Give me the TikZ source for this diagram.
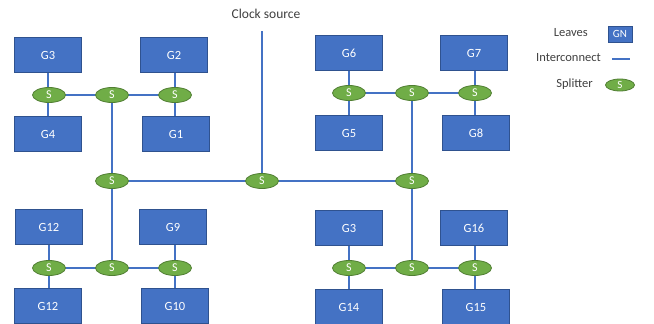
\documentclass[tikz,border=0pt]{standalone}
\usepackage{fontspec}
\setmainfont{Carlito}
\usetikzlibrary{shapes.geometric}
\definecolor{boxfill}{HTML}{4472C4}
\definecolor{boxline}{HTML}{2F528F}
\definecolor{sfill}{HTML}{70AD47}
\definecolor{sline}{HTML}{507E32}
\definecolor{wire}{HTML}{4472C4}
\definecolor{txt}{HTML}{404040}
\tikzset{
  leaf/.style={draw=boxline, line width=0.8pt, fill=boxfill, text=white, minimum width=67pt, minimum height=35pt, inner sep=0pt, font=\fontsize{12.5}{14}\selectfont},
  split/.style={ellipse, draw=sline, line width=0.8pt, fill=sfill, text=white, minimum width=33pt, minimum height=15pt, inner sep=0pt, font=\fontsize{12}{12}\selectfont},
  wirestyle/.style={draw=wire, line width=2pt},
  legtext/.style={text=txt, font=\fontsize{12.5}{14}\selectfont, anchor=east, inner sep=0pt}
}
\begin{document}
\begin{tikzpicture}[x=1pt,y=-1pt]
\useasboundingbox (0,0) rectangle (654,324);
% top-left
\node[leaf] (g3a) at (48,55) {G3};
\node[leaf] (g2) at (174,55) {G2};
\node[leaf] (g4) at (48,134) {G4};
\node[leaf] (g1) at (176,134) {G1};
% top-right
\node[leaf] (g6) at (349,53) {G6};
\node[leaf] (g7) at (474,53) {G7};
\node[leaf] (g5) at (349,133) {G5};
\node[leaf] (g8) at (476,133) {G8};
% bottom-left
\node[leaf] (g12a) at (49,227) {G12};
\node[leaf] (g9) at (173,227) {G9};
\node[leaf] (g12b) at (48,306) {G12};
\node[leaf] (g10) at (175,306) {G10};
% bottom-right
\node[leaf] (g3b) at (349,228) {G3};
\node[leaf] (g16) at (474,228) {G16};
\node[leaf] (g14) at (349,307) {G14};
\node[leaf] (g15) at (476,307) {G15};
% clock
\node[text=txt, font=\fontsize{13.5}{16}\selectfont, inner sep=0pt] (clk) at (266,14) {Clock source};
\coordinate (clktop) at (262,31);
% splitter coordinates
\coordinate (ptl1) at (49,95); \coordinate (ptl2) at (112,95); \coordinate (ptl3) at (175,95);
\coordinate (ptr1) at (349,93); \coordinate (ptr2) at (412,93); \coordinate (ptr3) at (475,93);
\coordinate (pbl1) at (49,268); \coordinate (pbl2) at (112,268); \coordinate (pbl3) at (175,268);
\coordinate (pbr1) at (349,268); \coordinate (pbr2) at (412,268); \coordinate (pbr3) at (475,268);
\coordinate (pc1) at (112,181); \coordinate (pc2) at (262,181); \coordinate (pc3) at (412,181);
% wires
\draw[wirestyle] (clktop) -- (pc2);
\draw[wirestyle] (pc1) -- (pc3);
\draw[wirestyle] (ptl2) -- (pbl2);
\draw[wirestyle] (ptr2) -- (pbr2);
\draw[wirestyle] (ptl1) -- (ptl3);
\draw[wirestyle] (ptr1) -- (ptr3);
\draw[wirestyle] (pbl1) -- (pbl3);
\draw[wirestyle] (pbr1) -- (pbr3);
\draw[wirestyle] (g3a) -- (g4);
\draw[wirestyle] (g2.south -| ptl3) -- (g1.north -| ptl3);
\draw[wirestyle] (g6) -- (g5);
\draw[wirestyle] (g7.south -| ptr3) -- (g8.north -| ptr3);
\draw[wirestyle] (g12a.south -| pbl1) -- (g12b.north -| pbl1);
\draw[wirestyle] (g9.south -| pbl3) -- (g10.north -| pbl3);
\draw[wirestyle] (g3b) -- (g14);
\draw[wirestyle] (g16.south -| pbr3) -- (g15.north -| pbr3);
% splitters
\foreach \p in {ptl1,ptl2,ptl3,ptr1,ptr2,ptr3,pbl1,pbl2,pbl3,pbr1,pbr2,pbr3,pc1,pc2,pc3}
  \node[split] (s\p) at (\p) {S};
% legend
\node[legtext] (lleaves) at (588,33) {Leaves};
\node[leaf, minimum width=24pt, minimum height=16pt, font=\fontsize{11}{12}\selectfont] (lgn) at (620,34) {GN};
\node[legtext] (linter) at (601,58) {Interconnect};
\coordinate (lw1) at (612,59); \coordinate (lw2) at (630,59);
\draw[wirestyle] (lw1) -- (lw2);
\node[legtext] (lsplit) at (593,84) {Splitter};
\node[split, minimum width=29pt, minimum height=12pt, font=\fontsize{11}{11}\selectfont] (lsp) at (620,85) {S};
\end{tikzpicture}
\end{document}
